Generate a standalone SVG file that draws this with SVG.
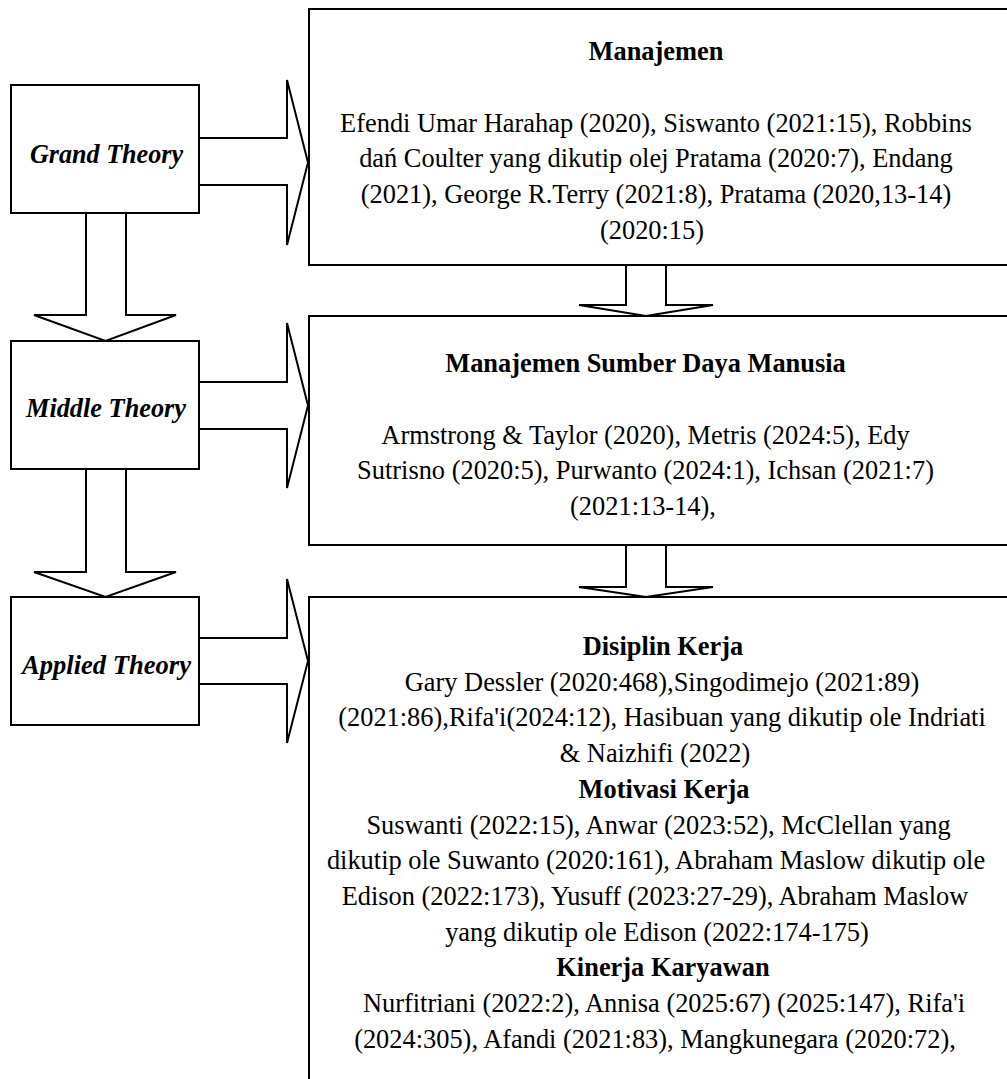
<svg xmlns="http://www.w3.org/2000/svg" width="1007" height="1079" viewBox="0 0 1007 1079">
<style>
.box{fill:#fff;stroke:#000;stroke-width:2}
.arr{fill:#fff;stroke:#000;stroke-width:2;stroke-linejoin:miter}
.lbl{font-family:"Liberation Serif","Times New Roman",serif;font-weight:bold;font-style:italic;font-size:28px;fill:#000}
.t{font-family:"Liberation Serif","Times New Roman",serif;font-size:26.4px;fill:#000}
.b{font-family:"Liberation Serif","Times New Roman",serif;font-size:26.4px;font-weight:bold;fill:#000}
</style>
<rect width="1007" height="1079" fill="#fff"/>
<g id="connectors">
<path class="arr" d="M199,138 H287 V80 L308,162.5 L287,245 V185 H199"/>
<path class="arr" d="M199,382 H287 V323 L308,405.5 L287,488 V429 H199"/>
<path class="arr" d="M199,638 H287 V579 L308,661 L287,743 V684 H199"/>
<path class="arr" d="M86,213 V315 H34 L105.5,341 L176,315 H126 V213"/>
<path class="arr" d="M86,469 V572 H34 L105.5,597 L176,572 H126 V469"/>
<path class="arr" d="M626,265 V305 H579 L646,316 L713,305 H666 V265"/>
<path class="arr" d="M626,545 V587 H579 L646,597 L713,587 H666 V545"/>
</g>
<g id="grand">
<rect class="box" x="11" y="85" width="188" height="128"/>
<text class="lbl" x="30" y="163" textLength="153" lengthAdjust="spacingAndGlyphs">Grand Theory</text>
</g>
<g id="middle">
<rect class="box" x="11" y="341" width="188" height="128"/>
<text class="lbl" x="26" y="417" textLength="160" lengthAdjust="spacingAndGlyphs">Middle Theory</text>
</g>
<g id="applied">
<rect class="box" x="11" y="597" width="188" height="128"/>
<text class="lbl" x="22" y="674" textLength="169" lengthAdjust="spacingAndGlyphs">Applied Theory</text>
</g>
<g id="manajemen">
<rect class="box" x="309" y="9" width="710" height="256"/>
<text class="b" x="656" y="60" text-anchor="middle">Manajemen</text>
<text class="t" x="656" y="131.7" text-anchor="middle">Efendi Umar Harahap (2020), Siswanto (2021:15), Robbins</text>
<text class="t" x="656" y="167.4" text-anchor="middle">dań Coulter yang dikutip olej Pratama (2020:7), Endang</text>
<text class="t" x="656" y="203" text-anchor="middle">(2021), George R.Terry (2021:8), Pratama (2020,13-14)</text>
<text class="t" x="652" y="238.8" text-anchor="middle">(2020:15)</text>
</g>
<g id="msdm">
<rect class="box" x="309" y="316" width="710" height="229"/>
<text class="b" x="645.5" y="371.7" text-anchor="middle">Manajemen Sumber Daya Manusia</text>
<text class="t" x="645.5" y="443.5" text-anchor="middle">Armstrong &amp; Taylor (2020), Metris (2024:5), Edy</text>
<text class="t" x="645.5" y="479" text-anchor="middle">Sutrisno (2020:5), Purwanto (2024:1), Ichsan (2021:7)</text>
<text class="t" x="643" y="514.5" text-anchor="middle">(2021:13-14),</text>
</g>
<g id="applied-content">
<rect class="box" x="309" y="597" width="710" height="500"/>
<text class="b" x="663" y="655" text-anchor="middle">Disiplin Kerja</text>
<text class="t" x="662" y="690.7" text-anchor="middle">Gary Dessler (2020:468),Singodimejo (2021:89)</text>
<text class="t" x="662" y="726.4" text-anchor="middle">(2021:86),Rifa'i(2024:12), Hasibuan yang dikutip ole Indriati</text>
<text class="t" x="655" y="762" text-anchor="middle">&amp; Naizhifi (2022)</text>
<text class="b" x="664" y="797.8" text-anchor="middle">Motivasi Kerja</text>
<text class="t" x="658.5" y="833.5" text-anchor="middle">Suswanti (2022:15), Anwar (2023:52), McClellan yang</text>
<text class="t" x="656" y="869" text-anchor="middle">dikutip ole Suwanto (2020:161), Abraham Maslow dikutip ole</text>
<text class="t" x="655" y="905" text-anchor="middle">Edison (2022:173), Yusuff (2023:27-29), Abraham Maslow</text>
<text class="t" x="657" y="940.6" text-anchor="middle">yang dikutip ole Edison (2022:174-175)</text>
<text class="b" x="663" y="976" text-anchor="middle">Kinerja Karyawan</text>
<text class="t" x="664" y="1012" text-anchor="middle">Nurfitriani (2022:2), Annisa (2025:67) (2025:147), Rifa'i</text>
<text class="t" x="655" y="1047.7" text-anchor="middle">(2024:305), Afandi (2021:83), Mangkunegara (2020:72),</text>
</g>
</svg>
